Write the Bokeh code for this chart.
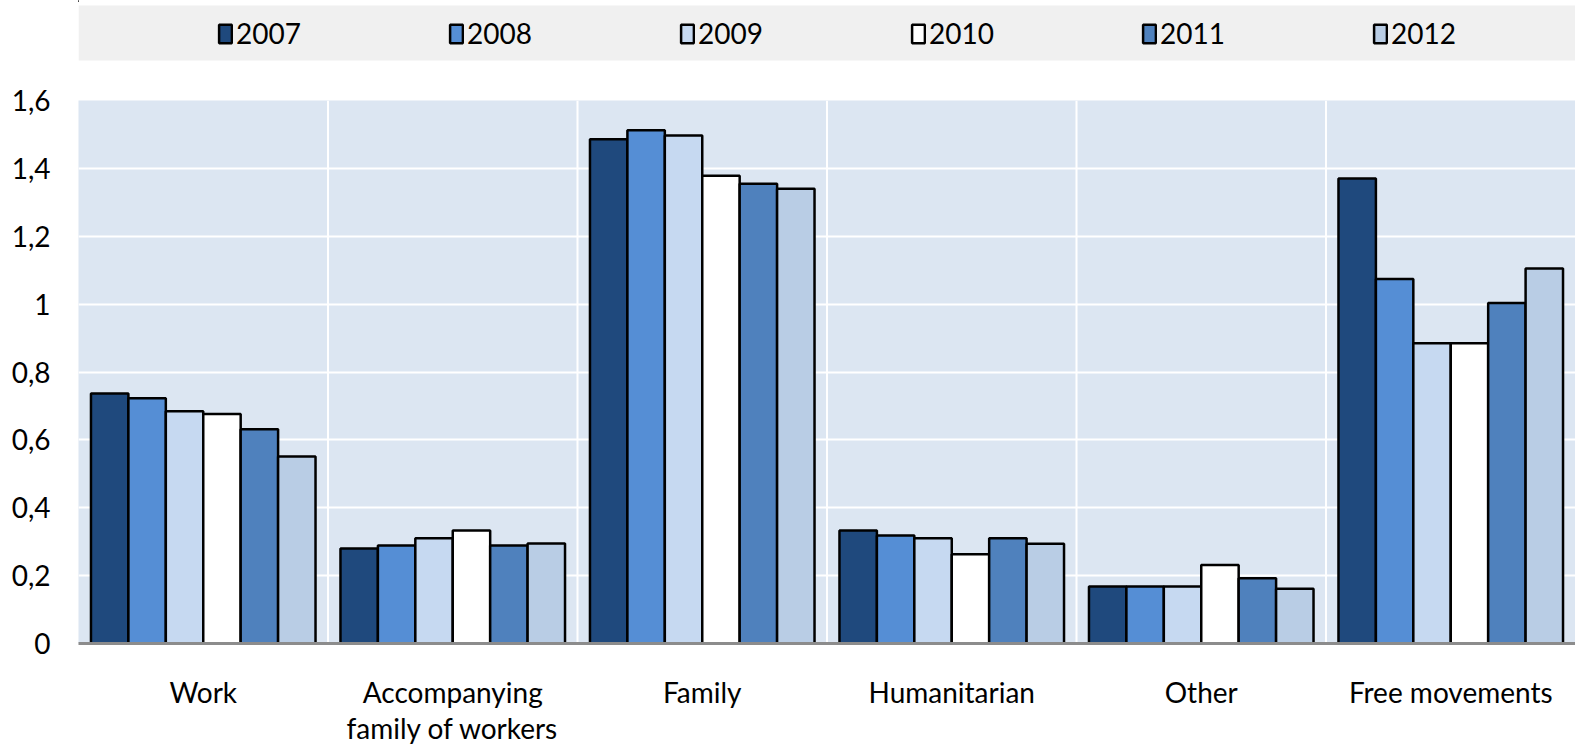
from bokeh.plotting import figure
from bokeh.models import (ColumnDataSource, FactorRange, Range1d, Span, Legend, LegendItem,
                          FixedTicker)
from bokeh.transform import dodge
from bokeh.layouts import column
from bokeh.embed import file_html
from bokeh.resources import INLINE

categories = ["Work", "Accompanying\nfamily of workers", "Family", "Humanitarian", "Other", "Free movements"]
years = ["2007", "2008", "2009", "2010", "2011", "2012"]

v2007 = [0.737, 0.280, 1.486, 0.333, 0.168, 1.370]
v2008 = [0.723, 0.289, 1.512, 0.318, 0.168, 1.074]
v2009 = [0.684, 0.310, 1.497, 0.310, 0.168, 0.885]
v2010 = [0.676, 0.333, 1.378, 0.263, 0.231, 0.885]
v2011 = [0.631, 0.289, 1.355, 0.310, 0.192, 1.003]
v2012 = [0.551, 0.295, 1.340, 0.294, 0.161, 1.105]

colors = ["#1F497D", "#558ED5", "#C6D9F1", "#FFFFFF", "#4F81BD", "#B9CDE5"]
y_ticks = [0, 0.2, 0.4, 0.6, 0.8, 1.0, 1.2, 1.4, 1.6]
y_labels = ["0", "0,2", "0,4", "0,6", "0,8", "1", "1,2", "1,4", "1,6"]

FONT = "Lato"
W = 1575
LEFT = 78

data = dict(cat=categories)
series = [v2007, v2008, v2009, v2010, v2011, v2012]
for y, s in zip(years, series):
    data[y] = s
src = ColumnDataSource(data)

# ---------------- main chart ----------------
p = figure(x_range=FactorRange(*categories, range_padding=0), y_range=Range1d(0, 1.6),
           frame_width=W - LEFT, frame_height=543, output_backend="svg", toolbar_location=None,
           min_border_left=LEFT, min_border_right=0, min_border_top=35, min_border_bottom=100)
p.background_fill_color = "#DCE6F2"
p.border_fill_color = "white"
p.outline_line_color = None

bw = 0.15
n = len(years)
for i, (y, c) in enumerate(zip(years, colors)):
    off = (i - (n - 1) / 2) * bw
    p.vbar(x=dodge("cat", off, range=p.x_range), top=y, width=bw, source=src,
           fill_color=c, line_color="black", line_width=2.5)

# grid
p.xgrid.grid_line_color = None
p.ygrid.ticker = FixedTicker(ticks=y_ticks)
p.ygrid.grid_line_color = "white"
p.ygrid.grid_line_width = 2
p.ygrid.level = "underlay"
for k in range(1, len(categories)):
    p.add_layout(Span(location=k, dimension="height", line_color="white", line_width=2, level="underlay"))

# y axis
p.yaxis.ticker = FixedTicker(ticks=y_ticks)
p.yaxis.major_label_overrides = {t: l for t, l in zip(y_ticks, y_labels)}
p.yaxis.axis_line_color = None
p.yaxis.major_tick_line_color = None
p.yaxis.minor_tick_line_color = None
p.yaxis.major_label_text_font = FONT
p.yaxis.major_label_text_font_size = "28px"
p.yaxis.major_label_text_color = "black"
p.yaxis.major_label_standoff = 22

# x axis
p.xaxis.axis_line_color = "#8C8C8C"
p.xaxis.axis_line_width = 3
p.xaxis.major_tick_line_color = None
p.xaxis.minor_tick_line_color = None
p.xaxis.major_label_text_font = FONT
p.xaxis.major_label_text_font_size = "28px"
p.xaxis.major_label_text_color = "black"
p.xaxis.major_label_text_line_height = 1.07
p.xaxis.major_label_standoff = 25

# ---------------- legend strip ----------------
lg = figure(x_range=Range1d(LEFT, W), y_range=Range1d(65, 0), frame_width=W - LEFT, frame_height=65,
            output_backend="svg", toolbar_location=None,
            min_border_left=LEFT, min_border_right=0, min_border_top=0, min_border_bottom=0)
lg.axis.visible = False
lg.grid.visible = False
lg.outline_line_color = None
lg.background_fill_color = "white"
lg.border_fill_color = "white"
lg.quad(left=[LEFT], right=[W], top=[5], bottom=[60], fill_color="#F0F0F0", line_color=None)

items = []
for y, c in zip(years, colors):
    r = lg.vbar(x=[-100], top=[0], bottom=[0], width=1, fill_color=c, line_color="black", line_width=2.5)
    items.append(LegendItem(label=y, renderers=[r]))

leg = Legend(items=items, orientation="horizontal", location=(217 - LEFT, 15),
             glyph_width=16, glyph_height=23, label_standoff=3, label_width=198, spacing=14,
             padding=0, margin=0, border_line_color=None, background_fill_alpha=0,
             label_text_font=FONT, label_text_font_size="28px", label_text_color="black")
lg.add_layout(leg, "center")

layout = column(lg, p, spacing=0)
open("out.html", "w").write(file_html(layout, INLINE))
